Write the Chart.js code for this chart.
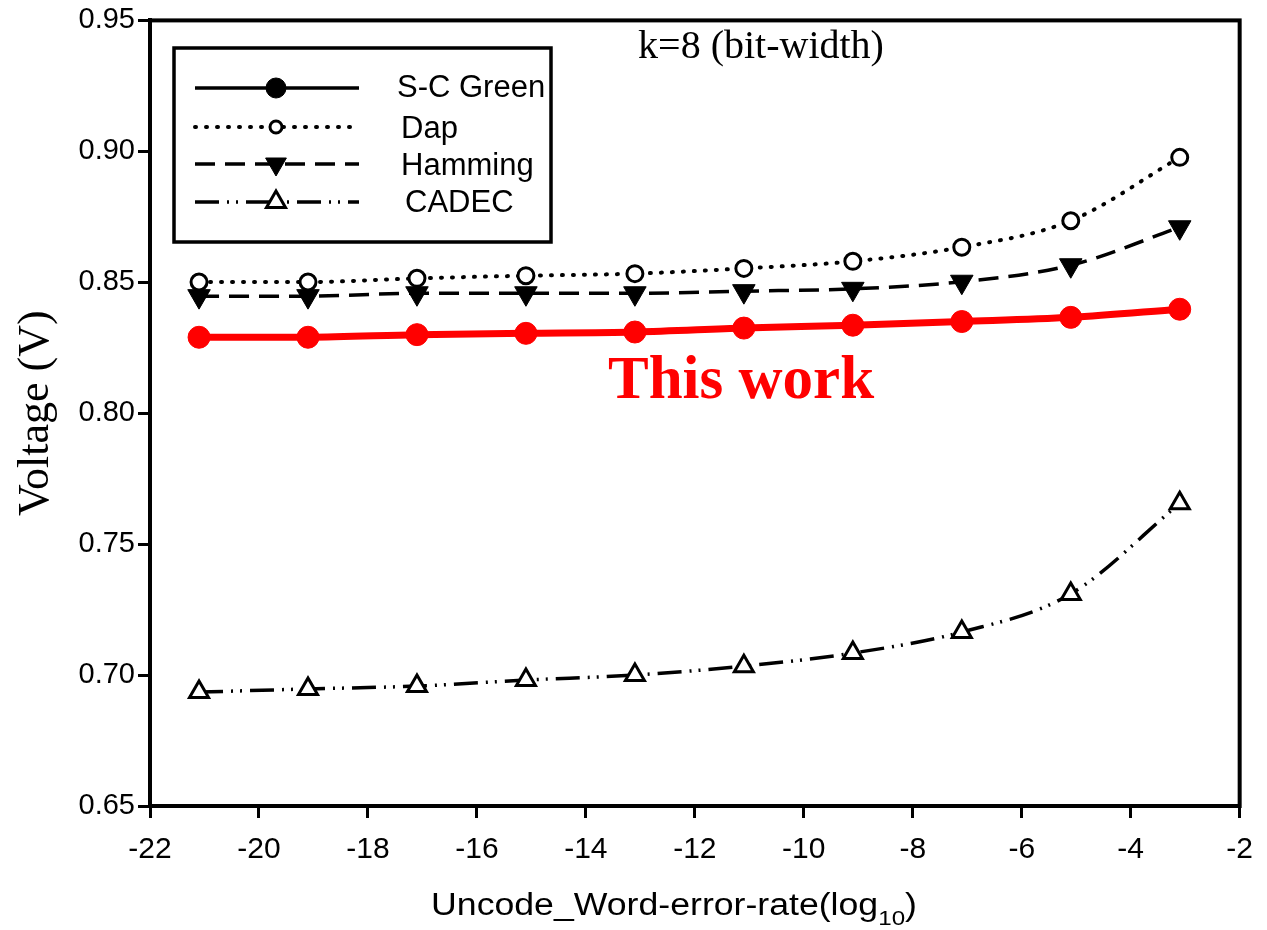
<!DOCTYPE html>
<html>
<head>
<meta charset="utf-8">
<script src="https://cdn.jsdelivr.net/npm/chart.js@4/dist/chart.umd.min.js"></script>
<style>
  html, body { margin: 0; padding: 0; background: #fff; }
  #wrap { width: 1267px; height: 930px; position: relative; }
</style>
</head>
<body>
<div id="wrap"><canvas id="c" width="1267" height="930"></canvas></div>
<script>
// ---- data ----
const xValues = [-21.1, -19.1, -17.1, -15.1, -13.1, -11.1, -9.1, -7.1, -5.1, -3.1];
const scGreen = [0.829, 0.829, 0.830, 0.8305, 0.831, 0.8325, 0.8336, 0.835, 0.8366, 0.8397];
const dap     = [0.8501, 0.8501, 0.8515, 0.8525, 0.8533, 0.8553, 0.858, 0.8634, 0.8735, 0.8977];
const hamming = [0.8447, 0.8447, 0.8458, 0.8458, 0.8458, 0.8466, 0.8475, 0.8502, 0.8565, 0.871];
const cadec   = [0.6935, 0.6947, 0.6958, 0.6981, 0.700, 0.7034, 0.7084, 0.7164, 0.731, 0.7656];
const seriesNames = ['S-C Green', 'Dap', 'Hamming', 'CADEC'];
const xTitleMain = 'Uncode_Word-error-rate(log';
const xTitleSub = '10';
const xTitleEnd = ')';
const yTitle = 'Voltage (V)';
const noteText = 'k=8 (bit-width)';
const highlightText = 'This work';

const pts = arr => arr.map((v, i) => ({ x: xValues[i], y: v }));

const SANS = '"Liberation Sans", Arial, Helvetica, sans-serif';
const SERIF = '"Liberation Serif", "Times New Roman", Times, serif';

const styles = [
  { dash: [], width: 3.5, cap: 'butt', marker: 'circle', r: 11, lr: 10, fill: true, mbw: 1 },
  { dash: [1, 10], width: 4, cap: 'round', marker: 'circle', r: 8, lr: 6, fill: false, mbw: 3 },
  { dash: [20, 10], width: 3.5, cap: 'butt', marker: 'triangleDown', r: 13, lr: 12, fill: true, mbw: 1 },
  { dash: [24, 8, 2, 7, 2, 8], width: 3.5, cap: 'butt', marker: 'triangle', r: 11, lr: 11, fill: false, mbw: 3 }
];

function drawMarker(ctx, type, x, y, r, fill, bw, color) {
  ctx.save();
  ctx.setLineDash([]);
  ctx.lineWidth = bw;
  ctx.strokeStyle = color;
  ctx.fillStyle = fill ? color : '#fff';
  ctx.beginPath();
  if (type === 'circle') {
    ctx.arc(x, y, r, 0, Math.PI * 2);
  } else {
    const dir = type === 'triangle' ? -1 : 1;
    for (let k = 0; k < 3; k++) {
      const a = k * 2 * Math.PI / 3;
      const px = x + Math.sin(a) * r;
      const py = y + dir * Math.cos(a) * r;
      if (k === 0) ctx.moveTo(px, py); else ctx.lineTo(px, py);
    }
    ctx.closePath();
  }
  ctx.fill();
  ctx.stroke();
  ctx.restore();
}

const decorPlugin = {
  id: 'decor',
  afterDraw(chart) {
    const ctx = chart.ctx;
    const a = chart.chartArea;
    ctx.save();
    // frame
    ctx.strokeStyle = '#000';
    ctx.lineWidth = 4;
    ctx.setLineDash([]);
    ctx.strokeRect(a.left, a.top, a.right - a.left, a.bottom - a.top);

    // legend box
    ctx.lineWidth = 3.5;
    ctx.strokeRect(174, 48, 377, 194);
    const lineYs = [88, 127, 164, 202];
    const textX = [397, 401, 401, 405];
    const textY = [97, 138, 175, 212];
    for (let i = 0; i < 4; i++) {
      const s = styles[i];
      ctx.save();
      ctx.strokeStyle = '#000';
      ctx.lineWidth = s.width;
      ctx.lineCap = s.cap;
      ctx.setLineDash(s.dash);
      ctx.beginPath();
      ctx.moveTo(195, lineYs[i]);
      ctx.lineTo(359, lineYs[i]);
      ctx.stroke();
      ctx.restore();
      drawMarker(ctx, s.marker, 276, lineYs[i], s.lr, s.fill, s.mbw, '#000');
      ctx.fillStyle = '#000';
      ctx.font = '31px ' + SANS;
      ctx.textAlign = 'left';
      ctx.textBaseline = 'alphabetic';
      ctx.fillText(seriesNames[i], textX[i], textY[i]);
    }

    // note text
    ctx.fillStyle = '#000';
    ctx.font = '40px ' + SERIF;
    ctx.textAlign = 'center';
    ctx.textBaseline = 'alphabetic';
    ctx.fillText(noteText, 761, 58);

    // highlight
    ctx.fillStyle = '#ff0000';
    ctx.font = 'bold 61px ' + SERIF;
    ctx.fillText(highlightText, 741, 398);

    // x title with subscript (slightly widened glyphs as in the reference)
    ctx.fillStyle = '#000';
    ctx.textAlign = 'left';
    const sxScale = 1.15;
    ctx.font = '31px ' + SANS;
    const w1 = ctx.measureText(xTitleMain).width;
    const w3 = ctx.measureText(xTitleEnd).width;
    ctx.font = '21px ' + SANS;
    const w2 = ctx.measureText(xTitleSub).width;
    const total = (w1 + w2 + w3) * sxScale;
    const startX = 674 - total / 2;
    ctx.translate(startX, 0);
    ctx.scale(sxScale, 1);
    ctx.font = '31px ' + SANS;
    ctx.fillText(xTitleMain, 0, 915);
    ctx.font = '21px ' + SANS;
    ctx.fillText(xTitleSub, w1, 925);
    ctx.font = '31px ' + SANS;
    ctx.fillText(xTitleEnd, w1 + w2, 915);
    ctx.restore();
  }
};

function ds(label, data, color, i) {
  const s = styles[i];
  return {
    label: label,
    data: pts(data),
    borderColor: color,
    backgroundColor: s.fill ? color : '#fff',
    borderWidth: s.width,
    borderDash: s.dash,
    borderCapStyle: s.cap,
    cubicInterpolationMode: 'monotone',
    pointStyle: s.marker === 'circle' ? 'circle' : 'triangle',
    rotation: s.marker === 'triangleDown' ? 180 : 0,
    pointRadius: s.r,
    pointHoverRadius: s.r,
    pointBorderWidth: s.mbw,
    pointBorderColor: color,
    pointBackgroundColor: s.fill ? color : '#fff',
    fill: false
  };
}

const datasets = [
  ds(seriesNames[3], cadec, '#000', 3),
  ds(seriesNames[1], dap, '#000', 1),
  ds(seriesNames[2], hamming, '#000', 2),
  Object.assign(ds(seriesNames[0], scGreen, '#ff0000', 0), { borderWidth: 7 })
];

new Chart(document.getElementById('c'), {
  type: 'line',
  data: { datasets },
  options: {
    responsive: false,
    animation: false,
    events: [],
    layout: { padding: { left: 0, right: 25, top: 20, bottom: 0 } },
    plugins: { legend: { display: false }, tooltip: { enabled: false }, title: { display: false } },
    scales: {
      x: {
        type: 'linear',
        min: -22, max: -2,
        border: { display: true, color: '#000', width: 4 },
        grid: { drawOnChartArea: false, drawTicks: true, tickLength: 12, color: '#000', lineWidth: 3 },
        ticks: { stepSize: 2, color: '#000', font: { family: SANS, size: 30 }, padding: 14, maxRotation: 0, autoSkip: false },
        afterFit(scale) { scale.height = 124; }
      },
      y: {
        type: 'linear',
        min: 0.65, max: 0.95,
        border: { display: true, color: '#000', width: 4 },
        grid: { drawOnChartArea: false, drawTicks: true, tickLength: 12, color: '#000', lineWidth: 3 },
        ticks: { stepSize: 0.05, color: '#000', font: { family: SANS, size: 29 }, padding: 3,
                 callback: v => Number(v).toFixed(2) },
        title: { display: true, text: yTitle, color: '#000', font: { family: SERIF, size: 44 }, padding: { top: 10, bottom: 0 } },
        afterFit(scale) { scale.width = 150; }
      }
    }
  },
  plugins: [decorPlugin]
});
</script>
</body>
</html>
